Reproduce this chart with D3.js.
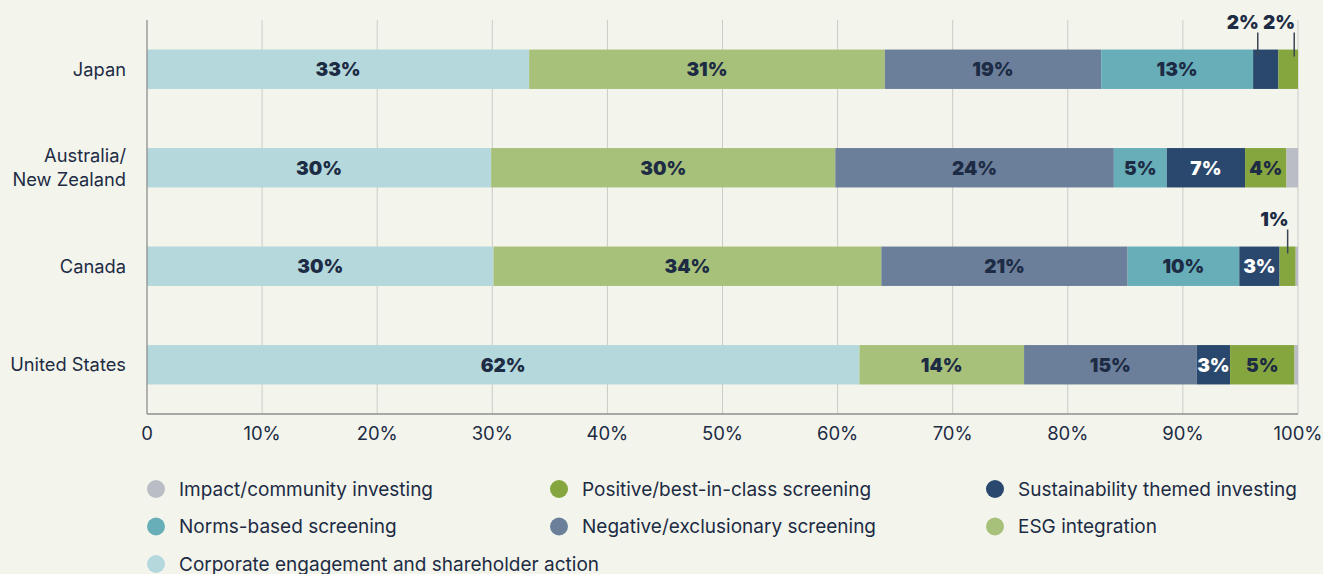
<!DOCTYPE html>
<html>
<head>
<meta charset="utf-8">
<script src="https://cdn.jsdelivr.net/npm/d3@7"></script>
<style>
  body { margin: 0; background: #f3f5ec; }
  svg { display: block; font-family: Inter, "Noto Sans", sans-serif; }
</style>
</head>
<body>
<div id="chart"></div>
<script>
// categories, top to bottom
const regions = ["Japan", "Australia/\nNew Zealand", "Canada", "United States"];

// stack order, left to right
const strategies = [
  "Corporate engagement and shareholder action",
  "ESG integration",
  "Negative/exclusionary screening",
  "Norms-based screening",
  "Sustainability themed investing",
  "Positive/best-in-class screening",
  "Impact/community investing"
];

// share of each strategy per region (%), same order as strategies
const japanValues     = [33.2, 30.9, 18.8, 13.2, 2.2, 1.7, 0];
const australiaValues = [29.9, 29.9, 24.2, 4.6, 6.8, 3.6, 1.0];
const canadaValues    = [30.1, 33.7, 21.4, 9.7, 3.5, 1.4, 0.2];
const usValues        = [61.9, 14.3, 15.0, 0, 2.9, 5.6, 0.3];

// printed labels ("" = none, "^" prefix = callout above the bar)
const japanLabels     = ["33%", "31%", "19%", "13%", "^2%", "^2%", ""];
const australiaLabels = ["30%", "30%", "24%", "5%", "7%", "4%", ""];
const canadaLabels    = ["30%", "34%", "21%", "10%", "3%", "^1%", ""];
const usLabels        = ["62%", "14%", "15%", "", "3%", "5%", ""];

const xTicks = [0, 10, 20, 30, 40, 50, 60, 70, 80, 90, 100];

const legendOrder = [
  "Impact/community investing", "Positive/best-in-class screening", "Sustainability themed investing",
  "Norms-based screening", "Negative/exclusionary screening", "ESG integration",
  "Corporate engagement and shareholder action"
];

const colors = {
  "Corporate engagement and shareholder action": "#b4d8dc",
  "ESG integration": "#a7c17b",
  "Negative/exclusionary screening": "#6b7f9a",
  "Norms-based screening": "#67aeb8",
  "Sustainability themed investing": "#2a486d",
  "Positive/best-in-class screening": "#85a63e",
  "Impact/community investing": "#babdc6"
};

const allValues = [japanValues, australiaValues, canadaValues, usValues];
const allLabels = [japanLabels, australiaLabels, canadaLabels, usLabels];

const width = 1323, height = 574;
const margin = { top: 20, right: 25, bottom: 160, left: 147 };
const ink = "#1d2b44";

const svg = d3.select("#chart").append("svg")
  .attr("width", width)
  .attr("height", height);

const x = d3.scaleLinear()
  .domain([0, 100])
  .range([margin.left, width - margin.right]);

const y = d3.scaleBand()
  .domain(regions)
  .range([margin.top, height - margin.bottom])
  .paddingInner(0.6)
  .paddingOuter(0.3);

// gridlines
svg.append("g")
  .selectAll("line")
  .data(xTicks.slice(1))
  .join("line")
  .attr("x1", d => x(d)).attr("x2", d => x(d))
  .attr("y1", margin.top).attr("y2", height - margin.bottom)
  .attr("stroke", "#cbcbc6").attr("stroke-width", 1);

// stacked rows
const rows = regions.map((r, i) => {
  const vals = allValues[i];
  let acc = 0;
  return strategies.map((s, j) => {
    const seg = { region: r, key: s, x0: acc, x1: acc + vals[j], label: allLabels[i][j] };
    acc += vals[j];
    return seg;
  });
});

const segs = rows.flat();

svg.append("g")
  .selectAll("rect")
  .data(segs.filter(d => d.x1 > d.x0))
  .join("rect")
  .attr("x", d => x(d.x0))
  .attr("width", d => x(d.x1) - x(d.x0))
  .attr("y", d => y(d.region))
  .attr("height", y.bandwidth())
  .attr("fill", d => colors[d.key]);

// labels inside bars
svg.append("g")
  .selectAll("text")
  .data(segs.filter(d => d.label && d.label[0] !== "^"))
  .join("text")
  .attr("x", d => x((d.x0 + d.x1) / 2))
  .attr("y", d => y(d.region) + y.bandwidth() / 2)
  .attr("dy", "0.36em")
  .attr("text-anchor", "middle")
  .style("font-size", "19px")
  .style("font-weight", 900)
  .attr("fill", d => d.key === "Sustainability themed investing" ? "#ffffff" : ink)
  .text(d => d.label);

// callouts above the bar for tiny segments
const callouts = segs.filter(d => d.label && d.label[0] === "^");
// nudge so the two Japan callouts do not collide
const nudge = { "Japan|Sustainability themed investing": -8, "Japan|Positive/best-in-class screening": 6 };

const co = svg.append("g").selectAll("g")
  .data(callouts)
  .join("g")
  .attr("transform", d => {
    const cx = x((d.x0 + d.x1) / 2) + (nudge[d.region + "|" + d.key] || 0);
    return `translate(${cx},${y(d.region)})`;
  });

co.append("line")
  .attr("y1", -17).attr("y2", 7)
  .attr("stroke", "#3b4654").attr("stroke-width", 1.5);

co.append("text")
  .attr("x", 1)
  .attr("y", -21)
  .attr("text-anchor", "end")
  .style("font-size", "19px")
  .style("font-weight", 900)
  .attr("fill", ink)
  .text(d => d.label.slice(1));

// axes
svg.append("line")
  .attr("x1", margin.left).attr("x2", margin.left)
  .attr("y1", margin.top).attr("y2", height - margin.bottom)
  .attr("stroke", "#8e8e8e").attr("stroke-width", 1.3);

svg.append("line")
  .attr("x1", margin.left).attr("x2", x(100))
  .attr("y1", height - margin.bottom).attr("y2", height - margin.bottom)
  .attr("stroke", "#8e8e8e").attr("stroke-width", 1.3);

svg.append("g")
  .selectAll("text")
  .data(xTicks)
  .join("text")
  .attr("x", d => x(d))
  .attr("y", height - margin.bottom + 26)
  .attr("text-anchor", "middle")
  .style("font-size", "18.5px")
  .attr("fill", ink)
  .text(d => d === 0 ? "0" : d + "%");

// region labels
const yl = svg.append("g")
  .selectAll("text")
  .data(regions)
  .join("text")
  .attr("x", margin.left - 21)
  .attr("y", d => y(d) + y.bandwidth() / 2)
  .attr("text-anchor", "end")
  .style("font-size", "18.3px")
  .attr("fill", ink);

yl.each(function (d) {
  const lines = d.split("\n");
  const t = d3.select(this);
  lines.forEach((ln, k) => {
    t.append("tspan")
      .attr("x", margin.left - 21)
      .attr("dy", k === 0 ? (0.36 - (lines.length - 1) * 0.66) + "em" : "1.32em")
      .text(ln);
  });
});

// legend
const colX = [156, 559, 995];
const legend = svg.append("g")
  .selectAll("g")
  .data(legendOrder)
  .join("g")
  .attr("transform", (d, i) => `translate(${colX[i % 3]},${489 + Math.floor(i / 3) * 37.5})`);

legend.append("circle")
  .attr("r", 9)
  .attr("fill", d => colors[d]);

legend.append("text")
  .attr("x", 23)
  .attr("dy", "0.36em")
  .style("font-size", "19px")
  .attr("fill", ink)
  .text(d => d);
</script>
</body>
</html>
